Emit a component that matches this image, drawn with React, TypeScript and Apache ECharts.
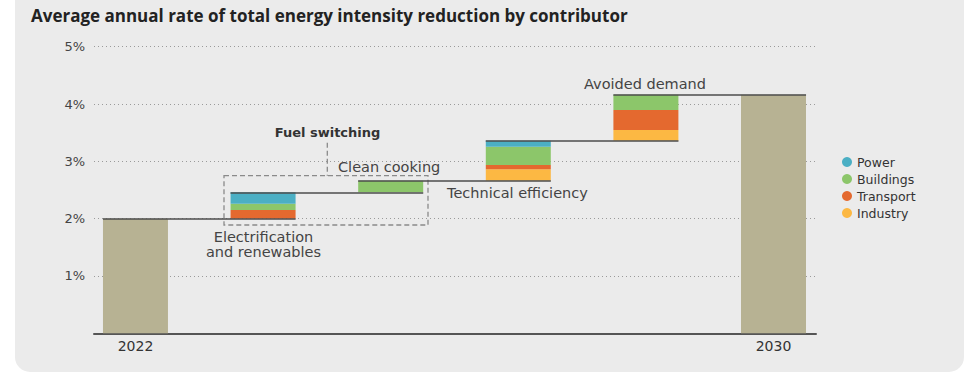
import React, { useEffect, useRef } from "react";
import * as echarts from "echarts";

const categories = [
  "2022",
  "Electrification and renewables",
  "Clean cooking",
  "Technical efficiency",
  "Avoided demand",
  "2030",
];
const totals: (number | null)[] = [2.0, null, null, null, null, 4.16];
const power: (number | null)[] = [null, 0.2, null, 0.105, null, null];
const buildings: (number | null)[] = [null, 0.11, 0.2, 0.32, 0.265, null];
const transport: (number | null)[] = [null, 0.15, null, 0.075, 0.35, null];
const industry: (number | null)[] = [null, null, null, 0.2, 0.185, null];
const yTicks = [0, 1, 2, 3, 4, 5];
const legendNames = ["Power", "Buildings", "Transport", "Industry"];

const COLORS: Record<string, string> = {
  Power: "#4bafc4",
  Buildings: "#8cc66a",
  Transport: "#e4692f",
  Industry: "#fcb843",
  Total: "#b7b293",
};

const BAR_W = 65;

export default function App() {
  const ref = useRef<HTMLDivElement>(null);

  useEffect(() => {
    document.body.style.margin = "0";
    if (!ref.current) return;
    const chart = echarts.init(ref.current, null, { renderer: "svg" });

    // stacking order from the bottom of each step
    const stackOrder: [string, (number | null)[]][] = [
      ["Industry", industry],
      ["Transport", transport],
      ["Buildings", buildings],
      ["Power", power],
    ];
    const segData: Record<string, number[][]> = {
      Industry: [],
      Transport: [],
      Buildings: [],
      Power: [],
    };
    const tops: number[] = [];
    let level = totals[0] as number;
    tops.push(level);
    for (let i = 1; i < categories.length - 1; i++) {
      let y = level;
      for (const [name, arr] of stackOrder) {
        const v = arr[i];
        if (v !== null && v !== undefined) {
          segData[name].push([i, y, y + v]);
          y += v;
        }
      }
      level = y;
      tops.push(level);
    }
    const H = 0.255; // half bar width in axis units
    const segments = tops.map((t, i) => [
      { coord: [i - H, t] },
      { coord: [i + 1 + H, t] },
    ]);

    const makeCustom = (name: string) => ({
      type: "custom",
      name,
      itemStyle: { color: COLORS[name] },
      encode: { x: 0, y: [1, 2] },
      data: segData[name],
      z: 2,
      renderItem: (params: any, api: any) => {
        const x = api.value(0);
        const p0 = api.coord([x, api.value(1)]);
        const p1 = api.coord([x, api.value(2)]);
        return {
          type: "rect",
          shape: {
            x: p0[0] - BAR_W / 2,
            y: p1[1],
            width: BAR_W,
            height: p0[1] - p1[1],
          },
          style: { fill: COLORS[name] },
        };
      },
    });

    const series: any[] = [
      ...["Industry", "Transport", "Buildings", "Power"].map(makeCustom),
      {
        type: "bar",
        name: "Total",
        barWidth: BAR_W,
        data: totals
          .map((v, i) => (v === null ? null : [i, v]))
          .filter((d) => d !== null),
        itemStyle: { color: COLORS.Total },
        markLine: {
          silent: true,
          symbol: ["none", "none"],
          label: { show: false },
          lineStyle: { color: "#4d4d4d", width: 1.5, type: "solid" },
          data: segments,
          z: 10,
        },
      },
    ];

    const F = "'DejaVu Sans', sans-serif";
    const ANN = 14.5;
    chart.setOption({
      animation: false,
      textStyle: { fontFamily: F },
      title: {
        text: "Average annual rate of total energy intensity reduction by contributor",
        left: 31,
        top: 7,
        padding: 0,
        textStyle: {
          fontSize: 17,
          fontWeight: "bold",
          color: "#222",
          fontFamily: "'Open Sans', sans-serif",
        },
      },
      grid: { left: 94, right: 164, top: 46.7, bottom: 44.7 },
      legend: {
        data: legendNames,
        orient: "vertical",
        left: 842,
        top: 155.5,
        padding: 0,
        icon: "circle",
        itemWidth: 10,
        itemHeight: 10,
        itemGap: 4,
        textStyle: { fontSize: 12.5, color: "#333", fontFamily: F },
      },
      xAxis: {
        type: "value",
        min: -0.325,
        max: 5.333,
        axisLine: { show: true, lineStyle: { color: "#555", width: 2 } },
        axisTick: { show: false },
        splitLine: { show: false },
        axisLabel: {
          customValues: [0, categories.length - 1],
          formatter: (v: number) => {
            const i = Math.round(v);
            return i === 0 || i === categories.length - 1 ? categories[i] : "";
          },
          fontSize: 14,
          color: "#333",
          margin: 6,
        },
      },
      yAxis: {
        type: "value",
        min: yTicks[0],
        max: yTicks[yTicks.length - 1],
        interval: 1,
        axisLine: { show: false },
        axisTick: { show: false },
        axisLabel: {
          formatter: (v: number) => (v === 0 ? "" : `${v}%`),
          fontSize: 13,
          color: "#444",
          margin: 9,
        },
        splitLine: {
          lineStyle: { color: "#9a9a9a", width: 1, type: [1, 3] },
        },
      },
      graphic: [
        {
          type: "rect",
          shape: { x: 224, y: 175.7, width: 204, height: 49.3 },
          style: { fill: "none", stroke: "#8a8a8a", lineWidth: 1.3, lineDash: [5, 3] },
          z: 5,
        },
        {
          type: "line",
          shape: { x1: 327.3, y1: 142.7, x2: 327.3, y2: 175.7 },
          style: { stroke: "#8a8a8a", lineWidth: 1.3, lineDash: [5, 3] },
          z: 5,
        },
        {
          type: "text",
          x: 327.5,
          y: 132.7,
          style: {
            text: "Fuel switching",
            fontSize: 13,
            fontWeight: "bold",
            fill: "#333",
            align: "center",
            verticalAlign: "middle",
            fontFamily: F,
          },
          z: 5,
        },
        {
          type: "text",
          x: 338,
          y: 166.7,
          style: {
            text: "Clean cooking",
            fontSize: ANN,
            fill: "#444",
            align: "left",
            verticalAlign: "middle",
            fontFamily: F,
          },
          z: 5,
        },
        {
          type: "text",
          x: 263.5,
          y: 244.3,
          style: {
            text: "Electrification\nand renewables",
            fontSize: ANN,
            lineHeight: 15.5,
            fill: "#444",
            align: "center",
            verticalAlign: "middle",
            fontFamily: F,
          },
          z: 5,
        },
        {
          type: "text",
          x: 447,
          y: 193,
          style: {
            text: "Technical efficiency",
            fontSize: ANN,
            fill: "#444",
            align: "left",
            verticalAlign: "middle",
            fontFamily: F,
          },
          z: 5,
        },
        {
          type: "text",
          x: 584,
          y: 84,
          style: {
            text: "Avoided demand",
            fontSize: ANN,
            fill: "#444",
            align: "left",
            verticalAlign: "middle",
            fontFamily: F,
          },
          z: 5,
        },
      ],
      series,
    });

    return () => chart.dispose();
  }, []);

  return (
    <div
      style={{
        position: "relative",
        width: 980,
        height: 378,
        background: "#fff",
        overflow: "hidden",
      }}
    >
      <div
        style={{
          position: "absolute",
          left: 15,
          top: -20,
          width: 949,
          height: 392,
          background: "#ebebeb",
          borderRadius: 15,
        }}
      />
      <div
        ref={ref}
        style={{ position: "absolute", left: 0, top: 0, width: 980, height: 378 }}
      />
    </div>
  );
}
